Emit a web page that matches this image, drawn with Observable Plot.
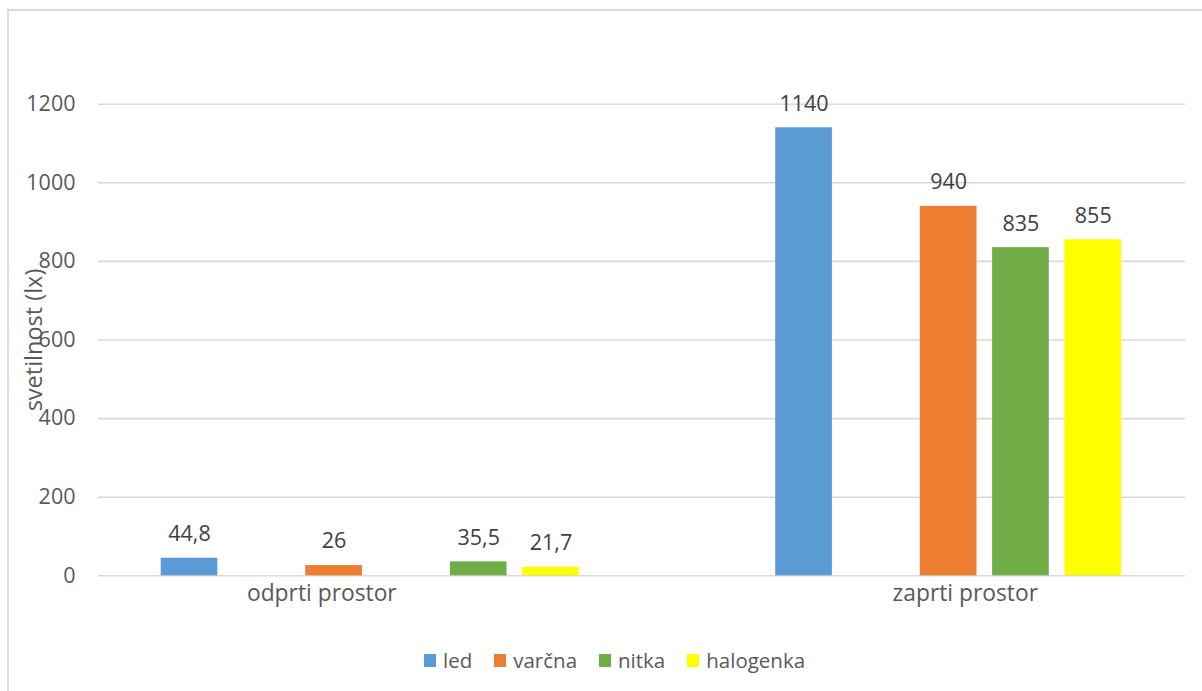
<!DOCTYPE html>
<html>
<head>
<meta charset="utf-8">
<script src="https://cdn.jsdelivr.net/npm/d3@7"></script>
<script src="https://cdn.jsdelivr.net/npm/@observablehq/plot@0.6"></script>
<style>
  html, body { margin: 0; padding: 0; background: #fff; overflow: hidden; }
  #wrap { position: relative; width: 1202px; height: 691px; font-family: "Open Sans", "Noto Sans", sans-serif; }
  #frame { position: absolute; left: 7px; top: 9px; right: 0; bottom: 0; border-top: 2px solid #dadada; border-left: 2px solid #dadada; pointer-events: none; }
  #chart { position: absolute; left: 0; top: 0; }
  #legend { position: absolute; left: 424px; top: 647px; display: flex; align-items: center; font-size: 20.5px; color: #595959; height: 26px; }
  .item { display: flex; align-items: center; margin-right: 22px; }
  .sw { width: 12px; height: 13px; margin-right: 7px; }
</style>
</head>
<body>
<div id="wrap">
  <div id="chart"></div>
  <div id="legend"></div>
  <div id="frame"></div>
</div>
<script>
// ---- data ----
const categories = ["odprti prostor", "zaprti prostor"];
const series = ["led", "varčna", "nitka", "halogenka"];
const odprtiValues = [44.8, 26, 35.5, 21.7];
const zaprtiValues = [1140, 940, 835, 855];
// sheet column (series slot) each series occupies inside its category cluster
const odprtiSlots = [0, 2, 4, 5];
const zaprtiSlots = [0, 2, 3, 4];
const seriesColors = ["#5B9BD5", "#ED7D31", "#70AD47", "#FFFF00"];
const yTicks = [0, 200, 400, 600, 800, 1000, 1200];
const yTitle = "svetilnost (lx)";

// ---- layout (not data) ----
const W = 1202, H = 640;
const groupStep = 8.5;       // slots between cluster starts
const barHalf = 0.392;       // half bar width in slot units
const labelSlot = [1.83, 10.73]; // category label centres in slot units

const values = [odprtiValues, zaprtiValues];
const slots = [odprtiSlots, zaprtiSlots];
const rows = categories.flatMap((c, g) => series.map((s, i) => ({
  category: c, series: s, value: values[g][i], u: g * groupStep + slots[g][i]
})));
const catRows = categories.map((c, g) => ({category: c, u: labelSlot[g]}));
const fmt = v => String(v).replace(".", ",");

const plot = Plot.plot({
  width: W,
  height: H,
  marginLeft: 98,
  marginRight: 17,
  marginTop: 103.7,
  marginBottom: H - 575.3,
  style: {fontFamily: '"Open Sans", "Noto Sans", sans-serif', fontSize: "21px", color: "#595959", background: "transparent"},
  x: {type: "linear", domain: [-(189 - 98) / 72.3, (1185 - 189) / 72.3], axis: null},
  y: {domain: [0, 1200], axis: null},
  color: {domain: series, range: seriesColors},
  marks: [
    Plot.ruleY(yTicks, {stroke: "#d9d9d9", strokeWidth: 1.6}),
    Plot.text(yTicks, {y: d => d, text: d => String(d), frameAnchor: "left", dx: -23, textAnchor: "end", fill: "#595959", fontSize: 21.5}),
    Plot.rect(rows, {x1: d => d.u - barHalf, x2: d => d.u + barHalf, y1: 0, y2: "value", fill: "series"}),
    Plot.text(rows, {x: "u", y: "value", text: d => fmt(d.value), dy: -24, fill: "#404040", fontSize: 21.5}),
    Plot.text(catRows, {x: "u", text: "category", frameAnchor: "bottom", dy: 25, fill: "#595959", fontSize: 22.8}),
    Plot.text([yTitle], {frameAnchor: "left", dx: -64, rotate: -90, textAnchor: "middle", fill: "#595959", fontSize: 23.5})
  ]
});
document.getElementById("chart").appendChild(plot);

const legend = document.getElementById("legend");
series.forEach((s, i) => {
  const item = document.createElement("div");
  item.className = "item";
  const sw = document.createElement("div");
  sw.className = "sw";
  sw.style.background = seriesColors[i];
  const t = document.createElement("span");
  t.textContent = s;
  item.appendChild(sw);
  item.appendChild(t);
  legend.appendChild(item);
});
</script>
</body>
</html>
